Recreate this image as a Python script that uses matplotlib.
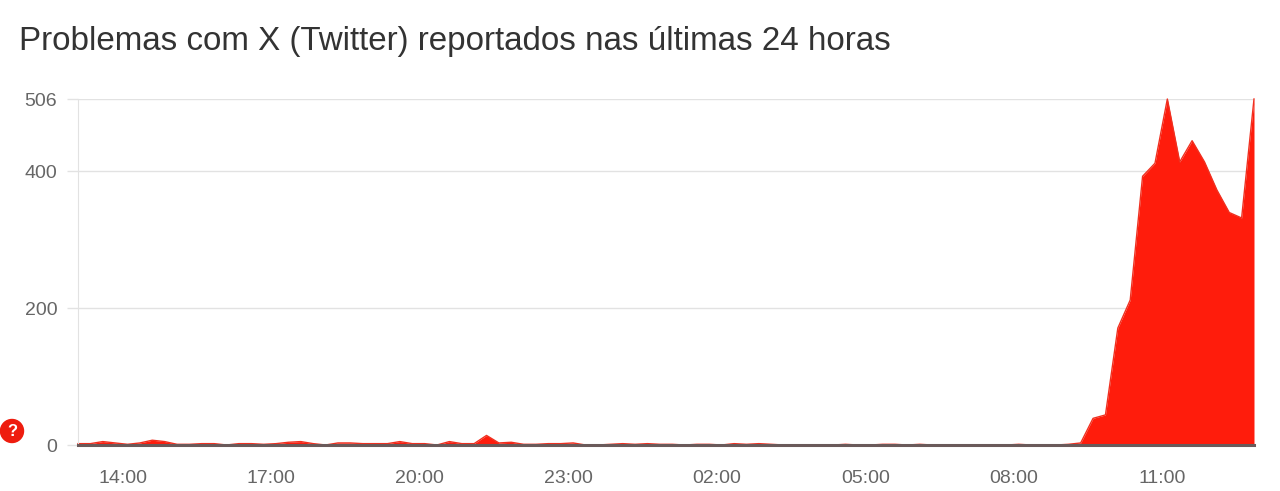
import numpy as np
import matplotlib
matplotlib.use("Agg")
import matplotlib.pyplot as plt
from matplotlib.patches import Circle

plt.rcParams['font.family'] = ['Liberation Sans', 'DejaVu Sans']

# reports per 15 minutes
relatos = [2, 2, 5, 3, 1, 3, 7, 5, 1, 1, 2, 2, 0, 2, 2, 1,
           2, 4, 5, 2, 0, 3, 3, 2, 2, 2, 5, 2, 2, 0, 5, 2,
           2, 14, 3, 4, 1, 1, 2, 2, 3, 0, 0, 1, 2, 1, 2, 1,
           1, 0, 1, 1, 0, 2, 1, 2, 1, 0, 0, 0, 0, 0, 1, 0,
           0, 1, 1, 0, 1, 0, 0, 0, 0, 0, 0, 0, 1, 0, 0, 0,
           1, 3, 39, 44, 171, 212, 393, 412, 506, 414, 445, 414, 373, 340, 332, 506]
inicio = 13.1
passo = 0.25
horas = inicio + np.arange(len(relatos)) * passo

marcas_x = [14, 17, 20, 23, 26, 29, 32, 35]
rotulos_x = ['14:00', '17:00', '20:00', '23:00', '02:00', '05:00', '08:00', '11:00']
marcas_y = [0, 200, 400, 506]

fig = plt.figure(figsize=(12.8, 4.91), dpi=100)
ax = fig.add_axes([78 / 1280, 1 - 445 / 491, (1254 - 78) / 1280, 346 / 491])

ax.fill_between(horas, relatos, 0, color='#ff1c0c', linewidth=0, zorder=2)
ax.plot(horas, relatos, color='#f03020', linewidth=1, zorder=2, clip_on=False)
ax.axhline(0, color='#6a5a5a', linewidth=2.2, zorder=3, clip_on=False)

ax.set_xlim(horas[0], horas[-1])
ax.set_ylim(0, 506)
ax.set_xticks(marcas_x)
ax.set_xticklabels(rotulos_x)
ax.set_yticks(marcas_y)
ax.grid(True, axis='y', color='#e2e2e2', linewidth=1, zorder=1)
ax.tick_params(axis='x', length=0, pad=18, labelsize=14, labelcolor='#666666')
ax.tick_params(axis='y', length=8, width=1, color='#e2e2e2', pad=7, labelsize=14, labelcolor='#666666')

for lado in ['top', 'right', 'bottom']:
    ax.spines[lado].set_visible(False)
ax.spines['left'].set_color('#e2e2e2')

fig.text(19 / 1280, 1 - 50 / 491, 'Problemas com X (Twitter) reportados nas últimas 24 horas',
         fontsize=23.85, color='#333333', va='baseline', ha='left')

# red help badge left of the zero label
fig.patches.append(Circle((12, 491 - 431), 11.5, transform=None, color='#ee1c0e'))
fig.text(12 / 1280, 1 - 431 / 491, '?', color='white', fontsize=12, fontweight='bold',
         ha='center', va='center')

fig.savefig('out.png', dpi=100)
